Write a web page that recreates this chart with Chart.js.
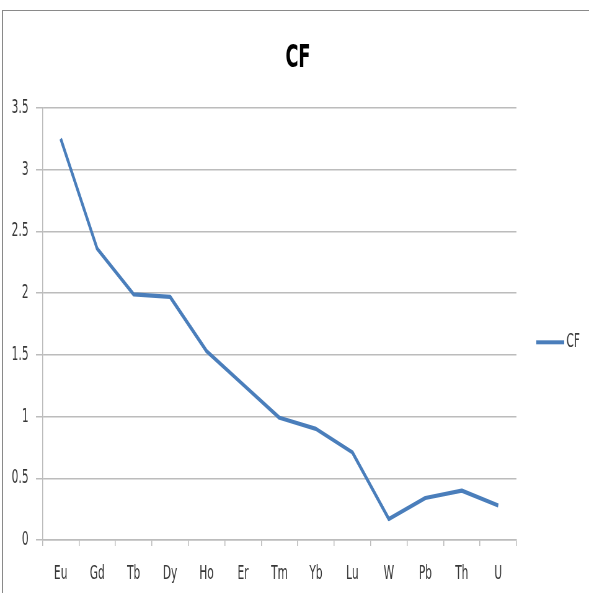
<!DOCTYPE html>
<html>
<head>
<meta charset="utf-8">
<script src="https://cdn.jsdelivr.net/npm/chart.js@4/dist/chart.umd.min.js"></script>
<style>
  html, body { margin: 0; padding: 0; background: #fff; overflow: hidden; }
  /* the chart is laid out wide and then narrowed, giving tall condensed lettering */
  #wrap { position: absolute; left: 0; top: 0; width: 950px; height: 593px;
          transform: scaleX(0.62); transform-origin: 0 0; }
  #frame { position: absolute; left: 2px; top: 10px; right: -10px; bottom: -10px;
           border-left: 1.5px solid #8a8a8a; border-top: 1.5px solid #8a8a8a; pointer-events: none; }
</style>
</head>
<body>
<div id="wrap"><canvas id="c"></canvas></div>
<div id="frame"></div>
<script>
// Elements along the x axis
const elements = ['Eu', 'Gd', 'Tb', 'Dy', 'Ho', 'Er', 'Tm', 'Yb', 'Lu', 'W', 'Pb', 'Th', 'U'];
// CF series
const cfValues = [3.25, 2.36, 1.99, 1.97, 1.53, 1.26, 0.99, 0.90, 0.71, 0.17, 0.34, 0.40, 0.28];
// Value axis
const yMin = 0;
const yMax = 3.5;
const yStep = 0.5;

const seriesName = 'CF';
const lineColor = '#4a7ebb';
const gridColor = '#bcbcbc';
const textColor = '#383838';
const fontFamily = "'DejaVu Sans Condensed', 'Liberation Sans Narrow', sans-serif";

// legend swatch: a short thick line
const swatch = document.createElement('canvas');
swatch.width = 45; swatch.height = 6;
(function () {
  const g = swatch.getContext('2d');
  g.fillStyle = lineColor;
  g.fillRect(0, 1, 45, 4);
})();

new Chart(document.getElementById('c'), {
  type: 'line',
  data: {
    labels: elements,
    datasets: [{
      label: seriesName,
      data: cfValues,
      borderColor: lineColor,
      backgroundColor: lineColor,
      borderWidth: 4.2,
      borderJoinStyle: 'round',
      pointRadius: 0,
      pointHoverRadius: 0,
      tension: 0,
      fill: false
    }]
  },
  options: {
    responsive: true,
    maintainAspectRatio: false,
    animation: false,
    layout: { padding: { left: 16, right: 4.7, top: 0, bottom: 0 } },
    plugins: {
      title: {
        display: true,
        text: seriesName,
        color: '#000',
        font: { family: fontFamily, size: 31.5, weight: 'bold' },
        padding: { top: 39.6, bottom: 30.6 }
      },
      legend: {
        display: true,
        position: 'right',
        title: { display: true, text: ' ', padding: { top: 58, bottom: 0 }, font: { size: 28 } },
        labels: {
          usePointStyle: true,
          pointStyle: swatch,
          pointStyleWidth: 33,
          boxHeight: 12,
          padding: 38,
          color: textColor,
          font: { family: fontFamily, size: 19 }
        }
      },
      tooltip: { enabled: false }
    },
    scales: {
      x: {
        offset: true,
        grid: {
          display: true,
          drawOnChartArea: false,
          drawTicks: true,
          tickLength: 6,
          color: gridColor,
          lineWidth: 1.5,
          offset: true
        },
        border: { display: true, color: gridColor, width: 1.5 },
        ticks: {
          color: textColor,
          font: { family: fontFamily, size: 19 },
          padding: 17,
          maxRotation: 0,
          autoSkip: false
        },
        afterFit(scale) { scale.height = 53; }
      },
      y: {
        min: yMin,
        max: yMax,
        grid: {
          color: gridColor,
          lineWidth: 1.5,
          drawTicks: true,
          tickLength: 10.5
        },
        border: { display: true, color: gridColor, width: 1.5 },
        ticks: {
          stepSize: yStep,
          color: textColor,
          font: { family: fontFamily, size: 19 },
          padding: 12,
          callback: (v) => String(parseFloat(Number(v).toFixed(2)))
        },
        afterFit(scale) { scale.width = 52.5; }
      }
    }
  }
});
</script>
</body>
</html>
